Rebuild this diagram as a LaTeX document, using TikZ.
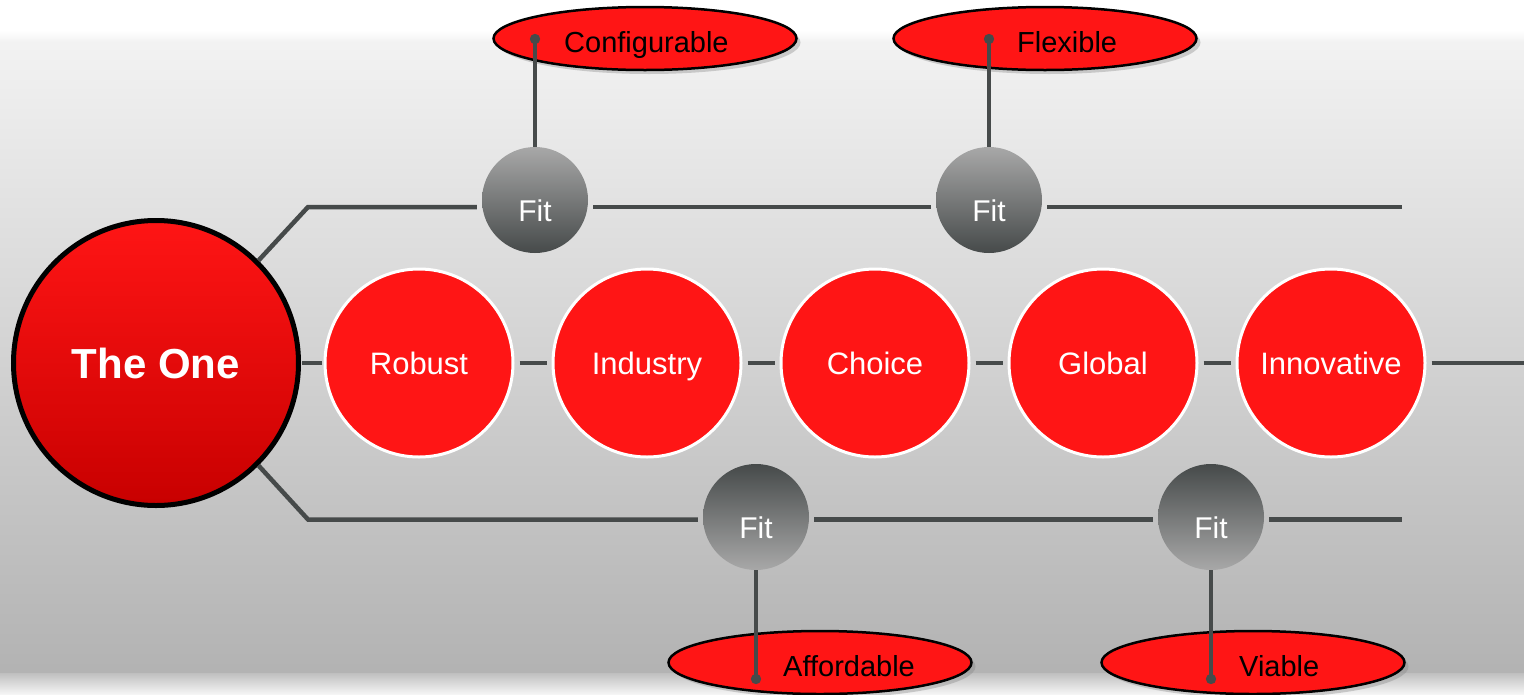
\documentclass[tikz,border=0pt]{standalone}
\usepackage{fontspec}
\setmainfont{Liberation Sans}
\usetikzlibrary{arrows.meta, positioning, calc, shapes.geometric, shadows}
\definecolor{onered}{HTML}{FF1515}
\definecolor{deepred}{HTML}{C80000}
\definecolor{linkgray}{HTML}{464A4A}
\definecolor{fitlight}{HTML}{A8A8A8}
\definecolor{fitdark}{HTML}{464A4A}
\tikzset{
    link/.style={draw=linkgray, line width=4.5pt},
    pin/.style={link, -{Circle[length=10pt, width=10pt]}},
    onebig/.style={circle, draw=black, line width=5pt, top color=onered, bottom color=deepred,
        minimum size=285pt, text=white, font=\fontsize{42}{50}\selectfont\bfseries,
        text height=30pt, text depth=0pt},
    value/.style={circle, draw=white, line width=3pt, fill=onered, minimum size=188pt,
        text=white, font=\fontsize{31}{37}\selectfont, text height=22pt, text depth=0pt},
    fit/.style={circle, minimum size=106pt, text=white, font=\fontsize{30}{36}\selectfont,
        text height=42pt, text depth=0pt},
    fitup/.style={fit, top color=fitlight, bottom color=fitdark},
    fitdown/.style={fit, top color=fitdark, bottom color=fitlight},
    tag/.style={ellipse, draw=black, line width=2.5pt, fill=onered, inner sep=0pt,
        minimum width=303pt, minimum height=63pt,
        drop shadow={opacity=0.35, shadow xshift=4pt, shadow yshift=-4pt}},
    tagtext/.style={anchor=west, inner sep=0pt, font=\fontsize{29}{34}\selectfont,
        text height=21pt, text depth=0pt}
}
\begin{document}
\begin{tikzpicture}[x=1pt, y=-1pt]
    \useasboundingbox (0,0) rectangle (1524,694);
    % Background
    \shade[top color=white, bottom color=black!5] (0,30) rectangle (1524,42);
    \shade[top color=black!5, bottom color=black!30] (0,42) rectangle (1524,673);
    \shade[top color=black!25, bottom color=black!4] (0,673) rectangle (1524,694);
    % Tags
    \node[tag] (conf) at (645,38.5) {};
    \node[tag] (flex) at (1045,38.5) {};
    \node[tag] (afford) at (820,662.5) {};
    \node[tag] (viable) at (1253,662.5) {};
    % Main row
    \node[onebig] (one) at (156,363) {The One};
    \foreach \name/\txt [count=\i] in {robust/Robust, industry/Industry, choice/Choice,
        global/Global, innovative/Innovative}
        \node[value] (\name) at ({419+228*(\i-1)},363) {\txt};
    \coordinate (rowend) at (1524,363);
    \draw[link, shorten <=1pt, shorten >=2pt] (one) -- (robust);
    \foreach \a/\b in {robust/industry, industry/choice, choice/global, global/innovative}
        \draw[link, shorten <=5pt, shorten >=5pt] (\a) -- (\b);
    \draw[link, shorten <=5pt] (innovative) -- (rowend);
    % Fit nodes
    \node[fitup] (fitA) at (535,200) {Fit};
    \node[fitup] (fitB) at (989,200) {Fit};
    \node[fitdown] (fitC) at (756,517) {Fit};
    \node[fitdown] (fitD) at (1211,517) {Fit};
    % Upper branch
    \coordinate (upcorner) at (308,207);
    \coordinate (upend) at (1402,207);
    \draw[link, shorten >=5pt] (one.45) -- (upcorner) -- (fitA.west |- upcorner);
    \draw[link, shorten <=5pt, shorten >=5pt] (fitA.east |- upcorner) -- (fitB.west |- upcorner);
    \draw[link, shorten <=5pt] (fitB.east |- upcorner) -- (upend);
    % Lower branch
    \coordinate (lowcorner) at (308,519.5);
    \coordinate (lowend) at (1402,519.5);
    \draw[link, shorten >=5pt] (one.-45) -- (lowcorner) -- (fitC.west |- lowcorner);
    \draw[link, shorten <=5pt, shorten >=5pt] (fitC.east |- lowcorner) -- (fitD.west |- lowcorner);
    \draw[link, shorten <=5pt] (fitD.east |- lowcorner) -- (lowend);
    % Pins
    \coordinate (confpin) at (535,34);
    \coordinate (flexpin) at (989,34);
    \coordinate (affordpin) at (756,684);
    \coordinate (viablepin) at (1211,684);
    \draw[pin] (fitA.north) -- (confpin);
    \draw[pin] (fitB.north) -- (flexpin);
    \draw[pin] (fitC.south) -- (affordpin);
    \draw[pin] (fitD.south) -- (viablepin);
    % Tag labels
    \node[tagtext] (conflabel) at ($(confpin |- conf)+(29,3)$) {Configurable};
    \node[tagtext] (flexlabel) at ($(flexpin |- flex)+(28,3)$) {Flexible};
    \node[tagtext] (affordlabel) at ($(affordpin |- afford)+(27,3.5)$) {Affordable};
    \node[tagtext] (viablelabel) at ($(viablepin |- viable)+(28,3)$) {Viable};
\end{tikzpicture}
\end{document}
